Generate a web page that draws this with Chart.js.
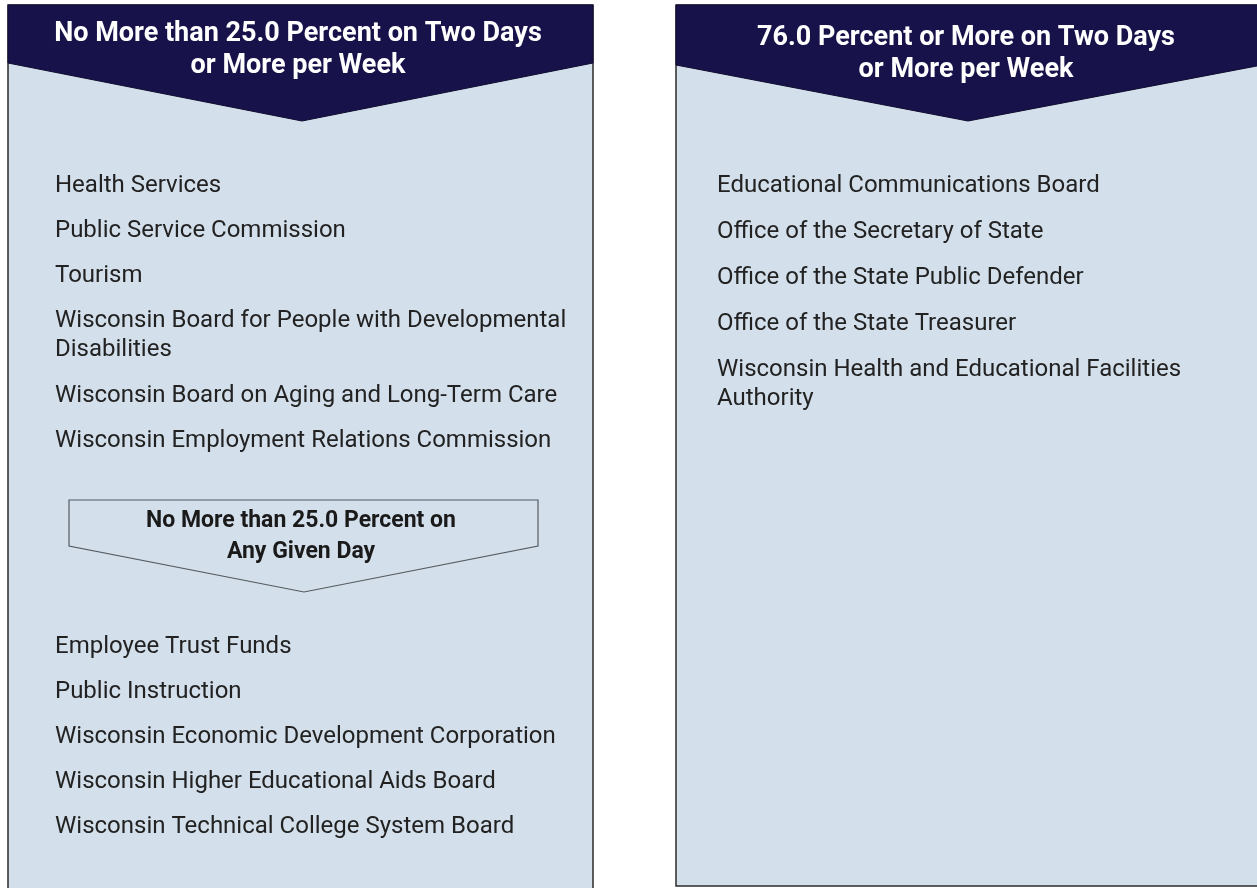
<!DOCTYPE html>
<html>
<head>
<meta charset="utf-8">
<script src="https://cdn.jsdelivr.net/npm/chart.js@4"></script>
<style>
  html, body { margin: 0; padding: 0; background: #ffffff; }
  #wrap { width: 1257px; height: 888px; position: relative; }
</style>
</head>
<body>
<div id="wrap"><canvas id="chart"></canvas></div>
<script>
// headings
var leftHeading = ["No More than 25.0 Percent on Two Days", "or More per Week"];
var rightHeading = ["76.0 Percent or More on Two Days", "or More per Week"];
var subHeading = ["No More than 25.0 Percent on", "Any Given Day"];

// agency lists (wrapped names as arrays of lines)
var weeklyAgencies = [
  "Health Services",
  "Public Service Commission",
  "Tourism",
  ["Wisconsin Board for People with Developmental", "Disabilities"],
  "Wisconsin Board on Aging and Long-Term Care",
  "Wisconsin Employment Relations Commission"
];
var dailyAgencies = [
  "Employee Trust Funds",
  "Public Instruction",
  "Wisconsin Economic Development Corporation",
  "Wisconsin Higher Educational Aids Board",
  "Wisconsin Technical College System Board"
];
var highAgencies = [
  "Educational Communications Board",
  "Office of the Secretary of State",
  "Office of the State Public Defender",
  "Office of the State Treasurer",
  ["Wisconsin Health and Educational Facilities", "Authority"]
];

// layout in canvas units
var NAVY = "#17134a";
var PANEL = "#d3dfea";
var BODY_FONT = "24px Roboto";
var LINE_GAP = 29;

function listPoints(items, x, y0, step) {
  var pts = [];
  var y = y0;
  items.forEach(function (item) {
    var lines = Array.isArray(item) ? item : [item];
    pts.push({ x: x, y: y, lines: lines });
    y += step + (lines.length - 1) * LINE_GAP;
  });
  return pts;
}

var weeklyPts = listPoints(weeklyAgencies, 55, 185.5, 45.3);
var dailyPts = listPoints(dailyAgencies, 55, 646.5, 45.2);
var highPts = listPoints(highAgencies, 717, 185.5, 46);

// panel shapes
var panels = [
  { left: 8, right: 593, top: 5, bottom: 900, side: 63, tip: 302, tipY: 121 },
  { left: 676, right: 1262, top: 5, bottom: 886, side: 65, tip: 968, tipY: 121 }
];
var innerBox = { left: 69, right: 538, top: 500, side: 546, tip: 304, tipY: 592 };

var shapesPlugin = {
  id: "shapes",
  beforeDatasetsDraw: function (chart) {
    var ctx = chart.ctx;
    var xs = chart.scales.x, ys = chart.scales.y;
    function px(v) { return xs.getPixelForValue(v); }
    function py(v) { return ys.getPixelForValue(v); }
    ctx.save();
    panels.forEach(function (p) {
      ctx.fillStyle = PANEL;
      ctx.fillRect(px(p.left), py(p.top), px(p.right) - px(p.left), py(p.bottom) - py(p.top));
      ctx.strokeStyle = "#2b2b2b";
      ctx.lineWidth = 1.5;
      ctx.strokeRect(px(p.left), py(p.top), px(p.right) - px(p.left), py(p.bottom) - py(p.top));
      ctx.beginPath();
      ctx.moveTo(px(p.left), py(p.top));
      ctx.lineTo(px(p.right), py(p.top));
      ctx.lineTo(px(p.right), py(p.side));
      ctx.lineTo(px(p.tip), py(p.tipY));
      ctx.lineTo(px(p.left), py(p.side));
      ctx.closePath();
      ctx.fillStyle = NAVY;
      ctx.fill();
      ctx.strokeStyle = "#0e0b30";
      ctx.lineWidth = 1;
      ctx.stroke();
    });
    var b = innerBox;
    ctx.beginPath();
    ctx.moveTo(px(b.left), py(b.top));
    ctx.lineTo(px(b.right), py(b.top));
    ctx.lineTo(px(b.right), py(b.side));
    ctx.lineTo(px(b.tip), py(b.tipY));
    ctx.lineTo(px(b.left), py(b.side));
    ctx.closePath();
    ctx.strokeStyle = "#555a60";
    ctx.lineWidth = 1.2;
    ctx.stroke();

    ctx.textAlign = "center";
    ctx.textBaseline = "middle";
    ctx.font = "bold 27px Roboto";
    ctx.fillStyle = "#ffffff";
    leftHeading.forEach(function (t, i) { ctx.fillText(t, px(298), py(34 + i * 32)); });
    rightHeading.forEach(function (t, i) { ctx.fillText(t, px(966), py(38 + i * 32)); });
    ctx.font = "bold 23px Roboto";
    ctx.fillStyle = "#1a1a1a";
    subHeading.forEach(function (t, i) { ctx.fillText(t, px(301), py(521 + i * 31)); });
    ctx.restore();
  },
  afterDatasetsDraw: function (chart) {
    var ctx = chart.ctx;
    ctx.save();
    ctx.font = BODY_FONT;
    ctx.fillStyle = "#222222";
    ctx.textAlign = "left";
    ctx.textBaseline = "middle";
    chart.data.datasets.forEach(function (ds, di) {
      var meta = chart.getDatasetMeta(di);
      meta.data.forEach(function (el, i) {
        ds.data[i].lines.forEach(function (line, li) {
          ctx.fillText(line, el.x, el.y + li * LINE_GAP);
        });
      });
    });
    ctx.restore();
  }
};

new Chart(document.getElementById("chart"), {
  type: "scatter",
  data: {
    datasets: [
      { label: "Weekly", data: weeklyPts, pointRadius: 0 },
      { label: "Daily", data: dailyPts, pointRadius: 0 },
      { label: "High", data: highPts, pointRadius: 0 }
    ]
  },
  options: {
    responsive: true,
    maintainAspectRatio: false,
    animation: false,
    layout: { padding: 0 },
    plugins: { legend: { display: false }, tooltip: { enabled: false } },
    scales: {
      x: { type: "linear", min: 0, max: 1257, display: false },
      y: { type: "linear", min: 0, max: 888, reverse: true, display: false }
    }
  },
  plugins: [shapesPlugin]
});
</script>
</body>
</html>
